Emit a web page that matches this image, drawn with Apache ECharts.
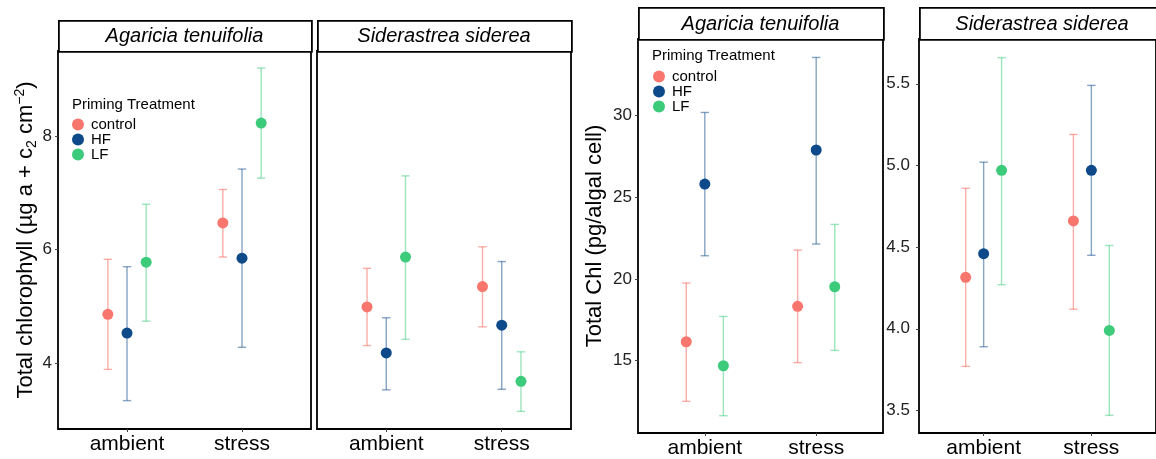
<!DOCTYPE html>
<html>
<head>
<meta charset="utf-8">
<script src="https://cdn.jsdelivr.net/npm/echarts@6/dist/echarts.min.js"></script>
<style>
html,body{margin:0;padding:0;background:#fff;}
#chart{width:1156px;height:459px;}
</style>
</head>
<body>
<div id="chart"></div>
<script>
// ---- data ----
const categories = ['ambient', 'stress'];
const groups = ['control', 'HF', 'LF'];
const panelTitles = ['Agaricia tenuifolia', 'Siderastrea siderea', 'Agaricia tenuifolia', 'Siderastrea siderea'];

// rows: control, HF, LF ; columns: ambient, stress
// Panel 1: total chlorophyll per area, Agaricia tenuifolia
const p1Mean = [[4.86, 6.47], [4.53, 5.85], [5.78, 8.23]];
const p1Low  = [[3.89, 5.87], [3.34, 4.28], [4.74, 7.26]];
const p1High = [[5.83, 7.06], [5.70, 7.42], [6.80, 9.20]];
// Panel 2: total chlorophyll per area, Siderastrea siderea
const p2Mean = [[4.99, 5.35], [4.18, 4.67], [5.87, 3.68]];
const p2Low  = [[4.31, 4.64], [3.53, 3.54], [4.42, 3.15]];
const p2High = [[5.67, 6.05], [4.80, 5.79], [7.30, 4.20]];
// Panel 3: total Chl per algal cell, Agaricia tenuifolia
const p3Mean = [[16.15, 18.32], [25.81, 27.90], [14.68, 19.52]];
const p3Low  = [[12.50, 14.87], [21.42, 22.14], [11.62, 15.62]];
const p3High = [[19.75, 21.77], [30.20, 33.57], [17.70, 23.34]];
// Panel 4: total Chl per algal cell, Siderastrea siderea
const p4Mean = [[4.315, 4.66], [4.46, 4.97], [4.97, 3.99]];
const p4Low  = [[3.77, 4.12], [3.89, 4.45], [4.27, 3.47]];
const p4High = [[4.86, 5.19], [5.02, 5.49], [5.66, 4.51]];

const yTicksLeft = [4, 6, 8];
const yTicksP3 = [15, 20, 25, 30];
const yTicksP4 = [3.5, 4.0, 4.5, 5.0, 5.5];

// ---- styling ----
const FONT = 'Liberation Sans, Arial, sans-serif';
const pointColors = ['#F8766D', '#0E4A8A', '#3CCB7B'];
const barColors = ['rgba(248,118,109,0.6)', 'rgba(14,74,138,0.5)', 'rgba(60,203,123,0.5)'];
const dodge = [-1/6, 0, 1/6];

const panels = [
  {mean: p1Mean, low: p1Low, high: p1High},
  {mean: p2Mean, low: p2Low, high: p2High},
  {mean: p3Mean, low: p3Low, high: p3High},
  {mean: p4Mean, low: p4Low, high: p4High}
];

const grids = [
  {left: 58, top: 51, width: 253, height: 378},
  {left: 317, top: 51, width: 254, height: 378},
  {left: 638, top: 39, width: 245, height: 394},
  {left: 919, top: 39, width: 246, height: 394}
];
const strips = [
  {x: 58, y: 20, w: 253, h: 31},
  {x: 317, y: 20, w: 254, h: 31},
  {x: 638, y: 7, w: 245, h: 32},
  {x: 919, y: 7, w: 246, h: 32}
];

const gridOpts = grids.map(g => Object.assign({show: true, borderColor: '#000', borderWidth: 1.8, backgroundColor: '#fff', containLabel: false}, g));

const xAxes = grids.map((g, i) => ({
  gridIndex: i, type: 'value', min: 0.4, max: 2.6,
  axisLine: {show: false}, splitLine: {show: false},
  axisTick: {show: true, customValues: [1, 2], length: 3, lineStyle: {color: '#444'}},
  axisLabel: {customValues: [1, 2], formatter: v => categories[Math.round(v) - 1], fontSize: 21, color: '#000', margin: 5, fontFamily: FONT}
}));

const yBase = (i, min, max, ticks, margin, fmt) => ({
  gridIndex: i, type: 'value', min: min, max: max,
  axisLine: {show: false}, splitLine: {show: false},
  axisTick: {show: ticks.length > 0, customValues: ticks, length: 3, lineStyle: {color: '#444'}},
  axisLabel: {show: ticks.length > 0, customValues: ticks, fontSize: 17, color: '#222', margin: margin, fontFamily: FONT, formatter: fmt}
});

const yAxes = [
  Object.assign(yBase(0, 2.84, 9.5, yTicksLeft, 6, v => String(v)), {
    name: 'Total chlorophyll (µg a + c{sub|2} cm{sup|−2})',
    nameLocation: 'middle', nameRotate: 90, nameGap: 19,
    nameTextStyle: {fontSize: 22, color: '#000', fontFamily: FONT, lineHeight: 26,
      rich: {
        sub: {fontSize: 14, lineHeight: 17, verticalAlign: 'bottom', fontFamily: FONT, color: '#000'},
        sup: {fontSize: 14, lineHeight: 13, verticalAlign: 'top', fontFamily: FONT, color: '#000'}
      }}
  }),
  yBase(1, 2.84, 9.5, [], 6, v => String(v)),
  Object.assign(yBase(2, 10.56, 34.7, yTicksP3, 6, v => String(v)), {
    name: 'Total Chl (pg/algal cell)', nameLocation: 'middle', nameRotate: 90, nameGap: 32,
    nameTextStyle: {fontSize: 22, color: '#000', fontFamily: FONT}
  }),
  yBase(3, 3.362, 5.774, yTicksP4, 9, v => v.toFixed(1))
];

const series = [];
panels.forEach((p, pi) => {
  groups.forEach((gname, gi) => {
    const barData = categories.map((c, ci) => [ci + 1 + dodge[gi], p.low[gi][ci], p.high[gi][ci]]);
    series.push({
      name: gname + ' error', type: 'custom', xAxisIndex: pi, yAxisIndex: pi,
      data: barData, encode: {x: 0, y: [1, 2]}, silent: true, z: 2,
      renderItem: (params, api) => {
        const x = api.value(0);
        const top = api.coord([x, api.value(2)]);
        const bot = api.coord([x, api.value(1)]);
        const hw = 4.2;
        const st = {stroke: barColors[gi], lineWidth: 1.4};
        return {type: 'group', children: [
          {type: 'line', shape: {x1: top[0], y1: top[1], x2: bot[0], y2: bot[1]}, style: st},
          {type: 'line', shape: {x1: top[0] - hw, y1: top[1], x2: top[0] + hw, y2: top[1]}, style: st},
          {type: 'line', shape: {x1: bot[0] - hw, y1: bot[1], x2: bot[0] + hw, y2: bot[1]}, style: st}
        ]};
      }
    });
  });
});
panels.forEach((p, pi) => {
  groups.forEach((gname, gi) => {
    series.push({
      name: gname, type: 'scatter', xAxisIndex: pi, yAxisIndex: pi,
      symbol: 'circle', symbolSize: 11, z: 5,
      itemStyle: {color: pointColors[gi], opacity: 1},
      data: categories.map((c, ci) => [ci + 1 + dodge[gi], p.mean[gi][ci]])
    });
  });
});

const graphics = [];
strips.forEach((s, i) => {
  graphics.push({type: 'rect', left: s.x, top: s.y, shape: {x: 0, y: 0, width: s.w, height: s.h},
    style: {fill: '#fff', stroke: '#000', lineWidth: 1.8}, z: 10});
  graphics.push({type: 'text', x: s.x + s.w / 2, y: s.y + s.h / 2 + 1, z: 11,
    style: {text: panelTitles[i], font: 'italic 20px ' + FONT, fill: '#000', align: 'center', verticalAlign: 'middle'}});
});
graphics.push({type: 'text', x: 72, y: 105, z: 11, style: {text: 'Priming Treatment', font: '15px ' + FONT, fill: '#000', align: 'left', verticalAlign: 'middle'}});
graphics.push({type: 'text', x: 652, y: 56, z: 11, style: {text: 'Priming Treatment', font: '15px ' + FONT, fill: '#000', align: 'left', verticalAlign: 'middle'}});

const legendBase = {
  orient: 'vertical', data: groups, icon: 'circle', itemWidth: 12, itemHeight: 12, itemGap: 0,
  padding: 0, selectedMode: false,
  textStyle: {fontSize: 15, lineHeight: 13, color: '#000', fontFamily: FONT, padding: [0, 0, 0, 2]}
};

const chart = echarts.init(document.getElementById('chart'), null, {renderer: 'canvas'});
chart.setOption({
  animation: false,
  backgroundColor: '#fff',
  textStyle: {fontFamily: FONT},
  grid: gridOpts,
  xAxis: xAxes,
  yAxis: yAxes,
  legend: [
    Object.assign({left: 72, top: 117}, legendBase),
    Object.assign({left: 653, top: 69}, legendBase)
  ],
  graphic: graphics,
  series: series
});
</script>
</body>
</html>
